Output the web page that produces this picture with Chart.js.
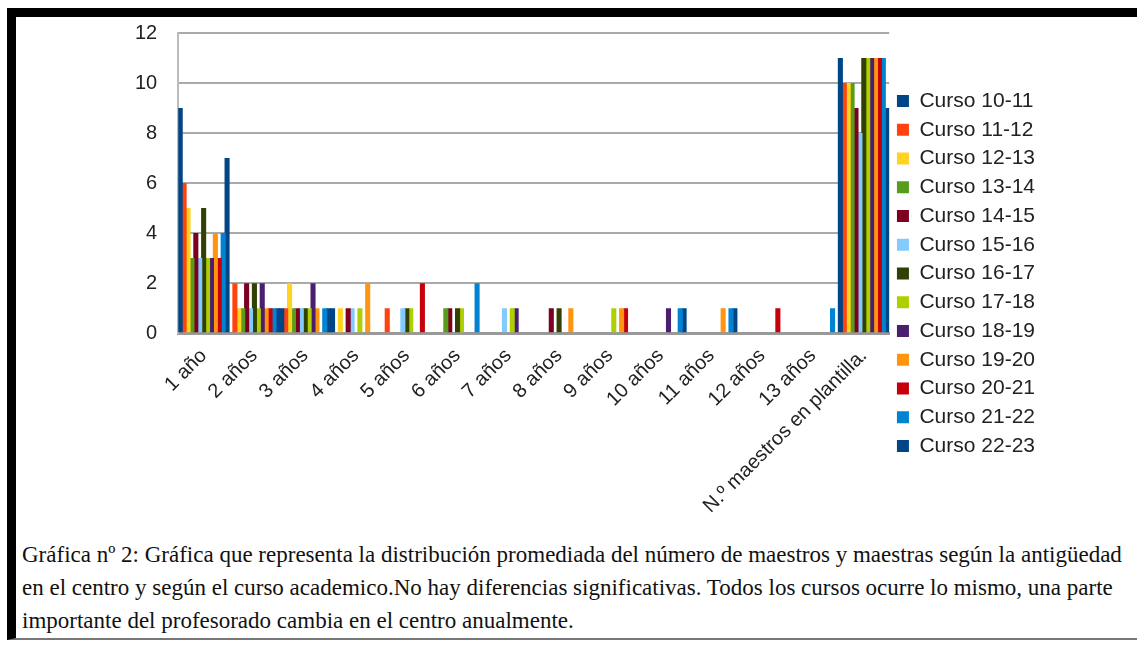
<!DOCTYPE html>
<html>
<head>
<meta charset="utf-8">
<script src="https://cdn.jsdelivr.net/npm/chart.js@4.4.0/dist/chart.umd.min.js"></script>
<style>
    body { margin: 0; background: #fff; width: 1137px; height: 646px; overflow: hidden; position: relative; }
    #frame { position: absolute; left: 7px; top: 8px; width: 1130px; height: 632px;
             border-top: 9px solid #000; border-left: 9px solid #000; border-bottom: 2px solid #777; box-sizing: border-box; }
    #wrap { position: absolute; left: 0; top: 0; width: 1045px; height: 521px; }
    #caption { position: absolute; left: 22px; top: 538px; width: 1115px;
               font-family: "Liberation Serif", "DejaVu Serif", serif; font-size: 23px; line-height: 33px; color: #111; }
</style>
</head>
<body>
<div id="frame"></div>
<div id="wrap"><canvas id="chart"></canvas></div>
<div id="caption">Gráfica nº 2: Gráfica que representa la distribución promediada del número de maestros y maestras según la antigüedad<br>en el centro y según el curso academico.No hay diferencias significativas. Todos los cursos ocurre lo mismo, una parte<br>importante del profesorado cambia en el centro anualmente.</div>
<script>
const categories = ['1 año', '2 años', '3 años', '4 años', '5 años', '6 años', '7 años', '8 años',
    '9 años', '10 años', '11 años', '12 años', '13 años', 'N.º maestros en plantilla.'];

const curso1011 = [9, 0, 1, 1, 0, 0, 0, 0, 0, 0, 0, 0, 0, 11];
const curso1112 = [6, 2, 1, 0, 1, 0, 0, 0, 0, 0, 0, 0, 0, 10];
const curso1213 = [5, 1, 2, 1, 0, 0, 0, 0, 0, 0, 0, 0, 0, 10];
const curso1314 = [3, 1, 1, 0, 0, 1, 0, 0, 0, 0, 0, 0, 0, 10];
const curso1415 = [4, 2, 1, 1, 0, 1, 0, 1, 0, 0, 0, 0, 0, 9];
const curso1516 = [3, 1, 1, 1, 1, 0, 1, 0, 0, 0, 0, 0, 0, 8];
const curso1617 = [5, 2, 1, 0, 1, 1, 0, 1, 0, 0, 0, 0, 0, 11];
const curso1718 = [3, 1, 1, 1, 1, 1, 1, 0, 1, 0, 0, 0, 0, 11];
const curso1819 = [3, 2, 2, 0, 0, 0, 1, 0, 0, 1, 0, 0, 0, 11];
const curso1920 = [4, 1, 1, 2, 0, 0, 0, 1, 1, 0, 1, 0, 0, 11];
const curso2021 = [3, 1, 0, 0, 2, 0, 0, 0, 1, 0, 0, 1, 0, 11];
const curso2122 = [4, 1, 1, 0, 0, 2, 0, 0, 0, 1, 1, 0, 1, 11];
const curso2223 = [7, 1, 1, 0, 0, 0, 0, 0, 0, 1, 1, 0, 0, 9];

const yTicks = [0, 2, 4, 6, 8, 10, 12];

const series = [
    { label: 'Curso 10-11', data: curso1011, color: '#004586' },
    { label: 'Curso 11-12', data: curso1112, color: '#ff420e' },
    { label: 'Curso 12-13', data: curso1213, color: '#ffd320' },
    { label: 'Curso 13-14', data: curso1314, color: '#579d1c' },
    { label: 'Curso 14-15', data: curso1415, color: '#7e0021' },
    { label: 'Curso 15-16', data: curso1516, color: '#83caff' },
    { label: 'Curso 16-17', data: curso1617, color: '#314004' },
    { label: 'Curso 17-18', data: curso1718, color: '#aecf00' },
    { label: 'Curso 18-19', data: curso1819, color: '#4b1f6f' },
    { label: 'Curso 19-20', data: curso1920, color: '#ff950e' },
    { label: 'Curso 20-21', data: curso2021, color: '#c5000b' },
    { label: 'Curso 21-22', data: curso2122, color: '#0084d1' },
    { label: 'Curso 22-23', data: curso2223, color: '#004586' }
];

const ctx = document.getElementById('chart').getContext('2d');

new Chart(ctx, {
    type: 'bar',
    data: {
        labels: categories,
        datasets: series.map(s => ({
            label: s.label,
            data: s.data,
            backgroundColor: s.color,
            borderWidth: 0,
            categoryPercentage: 1.0,
            barPercentage: 1.3
        }))
    },
    options: {
        responsive: true,
        maintainAspectRatio: false,
        animation: false,
        layout: { padding: { left: 114, top: 0, right: 0 } },
        plugins: {
            tooltip: { enabled: false },
            legend: {
                position: 'right',
                // empty title only pushes the entries down a bit
                title: { display: true, text: ' ', font: { size: 10 }, padding: { top: 7, bottom: 7 } },
                labels: {
                    boxWidth: 12,
                    boxHeight: 12,
                    padding: 7.75,
                    color: '#222',
                    font: { family: 'Liberation Sans', size: 21 }
                }
            }
        },
        scales: {
            x: {
                grid: { display: false },
                border: { color: '#999', width: 3 },
                ticks: {
                    minRotation: 45,
                    maxRotation: 45,
                    color: '#222',
                    font: { family: 'Liberation Sans', size: 20 }
                }
            },
            y: {
                min: 0,
                max: 12,
                afterBuildTicks: axis => { axis.ticks = yTicks.map(v => ({ value: v })); },
                grid: { color: '#aaa', lineWidth: 2, drawTicks: false },
                border: { color: '#bbb', width: 2 },
                ticks: {
                    padding: 21,
                    color: '#222',
                    font: { family: 'Liberation Sans', size: 20 }
                }
            }
        }
    }
});
</script>
</body>
</html>
